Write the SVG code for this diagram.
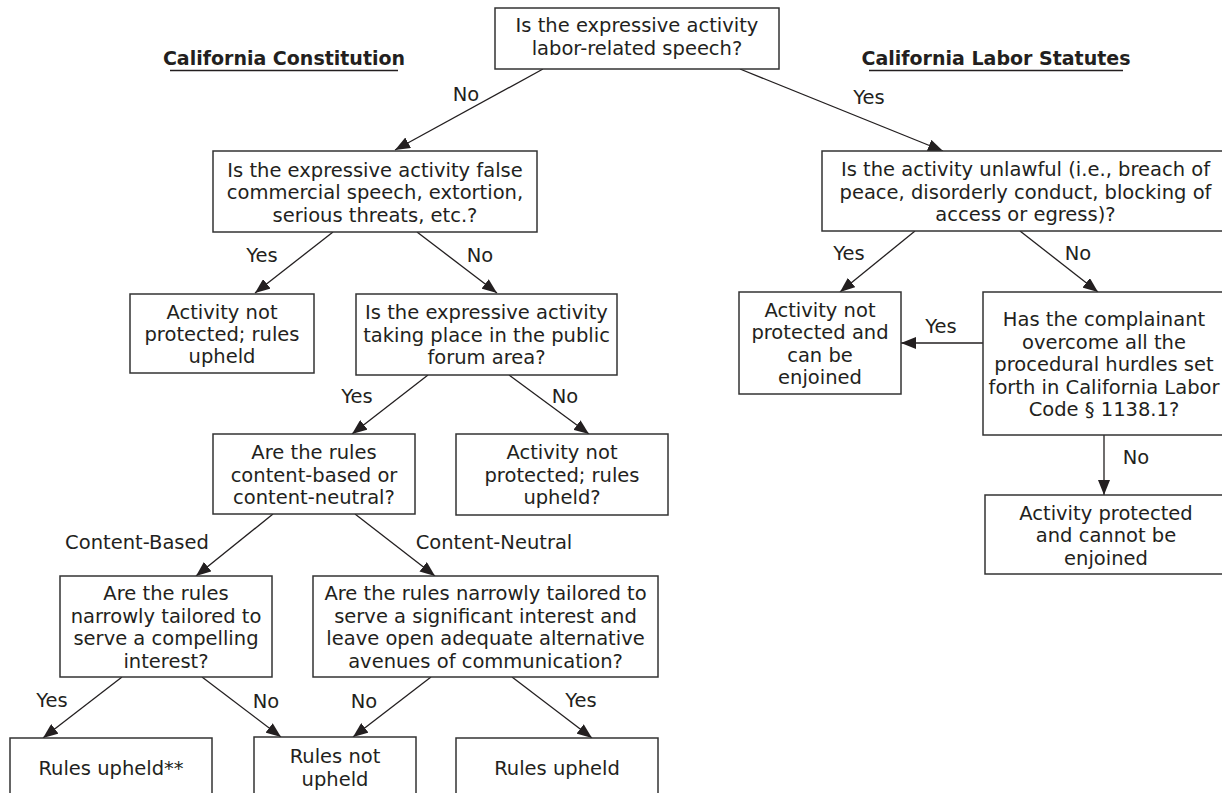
<svg xmlns="http://www.w3.org/2000/svg" width="1222" height="793" viewBox="0 0 1222 793">
<style>
.box{fill:#fff;stroke:#333;stroke-width:1.5}
.t{font-family:"DejaVu Sans","Liberation Sans",sans-serif;font-size:19.5px;fill:#231f20;text-anchor:middle}
.title{font-family:"DejaVu Sans","Liberation Sans",sans-serif;font-size:19px;font-weight:bold;fill:#231f20;text-anchor:middle}
.ul{stroke:#231f20;stroke-width:1.3}
.c{stroke:#231f20;stroke-width:1.3;fill:none;marker-end:url(#ah)}
.lbl{font-family:"DejaVu Sans","Liberation Sans",sans-serif;font-size:19.5px;fill:#231f20;text-anchor:middle}
</style>
<defs>
<marker id="ah" markerUnits="userSpaceOnUse" markerWidth="16" markerHeight="12" refX="15" refY="6" orient="auto">
<path d="M0,0 L15,6 L0,12 Z" fill="#231f20"/>
</marker>
</defs>
<rect width="1222" height="793" fill="#fff"/>

<g id="titles">
<text class="title" x="284" y="65">California Constitution</text>
<line class="ul" x1="170" y1="70.5" x2="398" y2="70.5"/>
<text class="title" x="996" y="65">California Labor Statutes</text>
<line class="ul" x1="869" y1="70.5" x2="1123" y2="70.5"/>
</g>

<g id="connectors">
<line class="c" x1="543" y1="69" x2="395" y2="150"/>
<line class="c" x1="740" y1="69" x2="943" y2="151"/>
<line class="c" x1="333" y1="232" x2="255" y2="293"/>
<line class="c" x1="417" y1="232" x2="497" y2="293"/>
<line class="c" x1="428" y1="375" x2="352" y2="434"/>
<line class="c" x1="509" y1="375" x2="589" y2="434"/>
<line class="c" x1="273" y1="514" x2="196" y2="576"/>
<line class="c" x1="355" y1="514" x2="435" y2="576"/>
<line class="c" x1="122" y1="677" x2="43" y2="738"/>
<line class="c" x1="202" y1="677" x2="281" y2="737"/>
<line class="c" x1="431" y1="677" x2="353" y2="737"/>
<line class="c" x1="512" y1="677" x2="592" y2="738"/>
<line class="c" x1="915" y1="231" x2="840" y2="292"/>
<line class="c" x1="1020" y1="231" x2="1098" y2="292"/>
<line class="c" x1="983" y1="343" x2="901" y2="343"/>
<line class="c" x1="1104" y1="435" x2="1104" y2="495"/>
<text class="lbl" x="466" y="101">No</text>
<text class="lbl" x="869" y="104">Yes</text>
<text class="lbl" x="262" y="262">Yes</text>
<text class="lbl" x="480" y="262">No</text>
<text class="lbl" x="357" y="403">Yes</text>
<text class="lbl" x="565" y="403">No</text>
<text class="lbl" x="137" y="549">Content-Based</text>
<text class="lbl" x="494" y="549">Content-Neutral</text>
<text class="lbl" x="52" y="707">Yes</text>
<text class="lbl" x="266" y="708">No</text>
<text class="lbl" x="364" y="708">No</text>
<text class="lbl" x="581" y="707">Yes</text>
<text class="lbl" x="849" y="260">Yes</text>
<text class="lbl" x="1078" y="260">No</text>
<text class="lbl" x="941" y="333">Yes</text>
<text class="lbl" x="1136" y="464">No</text>
</g>

<g id="n-top">
<rect class="box" x="495" y="8" width="284" height="61"/>
<text class="t" x="637" y="32">Is the expressive activity</text>
<text class="t" x="637" y="55">labor-related speech?</text>
</g>

<g id="n-false">
<rect class="box" x="213" y="151" width="324" height="81"/>
<text class="t" x="375" y="176.5">Is the expressive activity false</text>
<text class="t" x="375" y="199">commercial speech, extortion,</text>
<text class="t" x="375" y="221.5">serious threats, etc.?</text>
</g>

<g id="n-notprot1">
<rect class="box" x="130" y="294" width="184" height="79"/>
<text class="t" x="222" y="319">Activity not</text>
<text class="t" x="222" y="341">protected; rules</text>
<text class="t" x="222" y="363">upheld</text>
</g>

<g id="n-forum">
<rect class="box" x="356" y="294" width="261" height="81"/>
<text class="t" x="486.5" y="319">Is the expressive activity</text>
<text class="t" x="486.5" y="341.5">taking place in the public</text>
<text class="t" x="486.5" y="364">forum area?</text>
</g>

<g id="n-content">
<rect class="box" x="213" y="434" width="202" height="80"/>
<text class="t" x="314" y="459">Are the rules</text>
<text class="t" x="314" y="481.5">content-based or</text>
<text class="t" x="314" y="504">content-neutral?</text>
</g>

<g id="n-notprot2">
<rect class="box" x="456" y="434" width="212" height="81"/>
<text class="t" x="562" y="459">Activity not</text>
<text class="t" x="562" y="481.5">protected; rules</text>
<text class="t" x="562" y="504">upheld?</text>
</g>

<g id="n-compelling">
<rect class="box" x="60" y="576" width="212" height="101"/>
<text class="t" x="166" y="600">Are the rules</text>
<text class="t" x="166" y="622.5">narrowly tailored to</text>
<text class="t" x="166" y="645">serve a compelling</text>
<text class="t" x="166" y="667.5">interest?</text>
</g>

<g id="n-significant">
<rect class="box" x="313" y="576" width="345" height="101"/>
<text class="t" x="485.5" y="600">Are the rules narrowly tailored to</text>
<text class="t" x="485.5" y="622.5">serve a significant interest and</text>
<text class="t" x="485.5" y="645">leave open adequate alternative</text>
<text class="t" x="485.5" y="667.5">avenues of communication?</text>
</g>

<g id="n-upheld1">
<rect class="box" x="10" y="738" width="202" height="70"/>
<text class="t" x="111" y="775">Rules upheld**</text>
</g>

<g id="n-notupheld">
<rect class="box" x="254" y="737" width="162" height="70"/>
<text class="t" x="335" y="763">Rules not</text>
<text class="t" x="335" y="786">upheld</text>
</g>

<g id="n-upheld2">
<rect class="box" x="456" y="738" width="202" height="70"/>
<text class="t" x="557" y="775">Rules upheld</text>
</g>

<g id="n-unlawful">
<rect class="box" x="822" y="151" width="407" height="80"/>
<text class="t" x="1025.5" y="176">Is the activity unlawful (i.e., breach of</text>
<text class="t" x="1025.5" y="198.5">peace, disorderly conduct, blocking of</text>
<text class="t" x="1025.5" y="221">access or egress)?</text>
</g>

<g id="n-enjoined">
<rect class="box" x="739" y="292" width="162" height="102"/>
<text class="t" x="820" y="316.5">Activity not</text>
<text class="t" x="820" y="339">protected and</text>
<text class="t" x="820" y="361.5">can be</text>
<text class="t" x="820" y="384">enjoined</text>
</g>

<g id="n-complainant">
<rect class="box" x="983" y="292" width="243" height="143"/>
<text class="t" x="1104" y="326">Has the complainant</text>
<text class="t" x="1104" y="348.5">overcome all the</text>
<text class="t" x="1104" y="371">procedural hurdles set</text>
<text class="t" x="1104" y="393.5">forth in California Labor</text>
<text class="t" x="1104" y="416">Code § 1138.1?</text>
</g>

<g id="n-protected">
<rect class="box" x="985" y="495" width="242" height="79"/>
<text class="t" x="1106" y="519.5">Activity protected</text>
<text class="t" x="1106" y="542">and cannot be</text>
<text class="t" x="1106" y="564.5">enjoined</text>
</g>
</svg>
